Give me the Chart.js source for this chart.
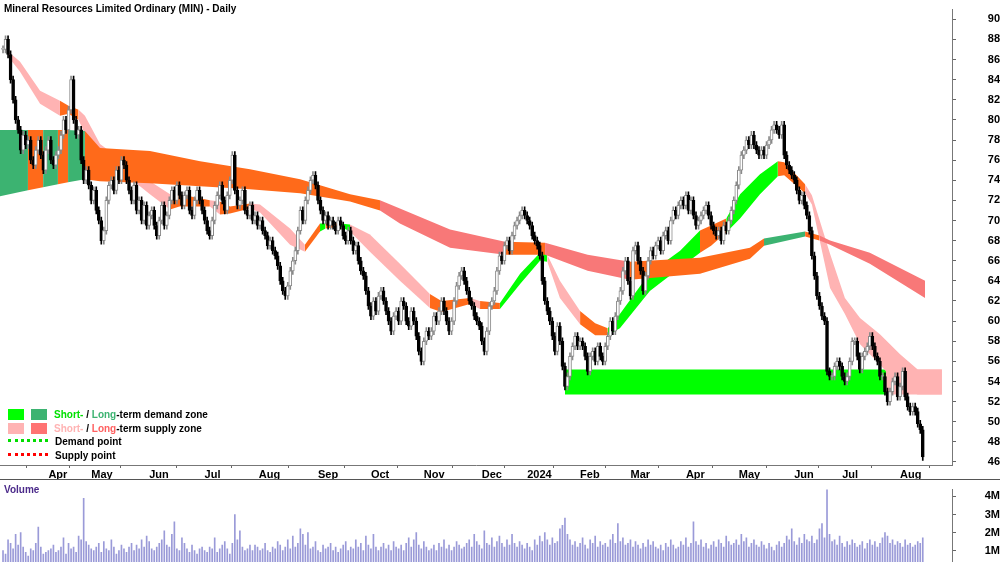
<!DOCTYPE html>
<html>
<head>
<meta charset="utf-8">
<script src="https://cdn.jsdelivr.net/npm/chart.js@4"></script>
<style>
  body { margin: 0; background: #fff; font-family: "Liberation Sans", Arial, sans-serif; }
  #wrap { position: relative; width: 1000px; height: 562px; overflow: hidden; }
  #main { position: absolute; left: 0; top: 0; width: 1000px; height: 480px; }
  #vol { position: absolute; left: 0; top: 480px; width: 1000px; height: 92px; }
  .title { position: absolute; left: 4px; top: 3px; font-size: 10px; font-weight: bold; }
  .vtitle { position: absolute; left: 4px; top: 484px; font-size: 10px; font-weight: bold; color: #4b2a8a; }
  .sep { position: absolute; left: 0; top: 479px; width: 1000px; height: 1px; background: #555; }
  .legend { position: absolute; left: 8px; top: 408px; font-size: 10px; font-weight: bold; line-height: 13.5px; }
  .legend .sw { display: inline-block; width: 16px; height: 11px; vertical-align: -2px; margin-right: 7px; }
  .legend .dot { display: inline-block; width: 40px; height: 0; border-top: 3px dotted; vertical-align: 3px; margin-right: 7px; }
</style>
</head>
<body>
<div id="wrap">
  <div id="main"><canvas id="mainChart"></canvas></div>
  <div id="vol"><canvas id="volChart"></canvas></div>
  <div class="title">Mineral Resources Limited Ordinary (MIN) - Daily</div>
  <div class="sep"></div>
  <div class="vtitle">Volume</div>
  <div class="legend">
    <div><span class="sw" style="background:#00ff00"></span><span class="sw" style="background:#3cb371"></span><span style="color:#00e000">Short-</span> / <span style="color:#3cb371">Long</span>-term demand zone</div>
    <div><span class="sw" style="background:#ffb3b3"></span><span class="sw" style="background:#ff7373"></span><span style="color:#ffb3b3">Short-</span> / <span style="color:#ff6060">Long</span>-term supply zone</div>
    <div><span class="dot" style="border-color:#00dd00"></span>Demand point</div>
    <div><span class="dot" style="border-color:#ff0000"></span>Supply point</div>
  </div>
</div>
<script>
// daily closes, one per trading day (index 0 = early Mar 2023)
const closes = [
  87, 88, 86.5, 84, 82, 80, 79, 77, 78.5, 77.5,
  78, 76, 75.5, 77, 78, 76.5, 75, 77, 78, 76,
  75.5, 76.5, 77, 78.5, 80, 79, 81, 84, 80, 78.5,
  79, 76, 74, 75, 73.5, 72, 73, 71, 70, 68,
  69, 72, 73.5, 74, 73, 75, 74, 76, 75.5, 74,
  73, 72, 73.5, 71, 72, 70, 71.5, 69.5, 70.5, 71,
  69.5, 68.5, 70, 71.5, 69.5, 70.5, 72, 73, 72, 73.5,
  72.5, 71.5, 72.5, 73, 71, 70.5, 72, 73, 72, 71,
  70, 69, 68.5, 70, 71.5, 72.5, 73.5, 72, 71, 72.5,
  74, 76.5, 73, 71.5, 72, 73, 71, 70.5, 71.5, 70,
  70.5, 69.5, 70, 69, 68.5, 67.5, 68, 67, 66.5, 65.5,
  64, 63, 62.5, 63.5, 65, 66, 67, 69, 71, 70,
  72, 73, 74, 74.5, 73.5, 72, 71, 70, 70.5, 69.5,
  70, 69.5, 69, 70, 69.5, 68.5, 68, 69, 68, 67,
  67.5, 66, 65, 64.5, 63, 61.5, 60.5, 62, 61, 62.5,
  63, 62, 61, 60, 59, 60.5, 61, 60, 62, 61.5,
  60, 59.5, 61, 60, 58.5, 57, 56, 58, 59, 58.5,
  59, 60.5, 60, 61, 62, 61, 60, 59, 60, 62,
  63.5, 64.5, 65, 64, 63, 62, 61.5, 60.5, 60, 59.5,
  58, 57, 59, 61.5, 62, 63, 65, 66.5, 66, 67.5,
  68, 67, 68.5, 69.5, 70, 70.5, 71, 70.5, 70, 69.5,
  68.5, 68, 67.5, 66.5, 64, 62, 61, 60, 58.5, 57,
  59.5, 58, 55.5, 53.5, 54.5, 56.5, 57.5, 58.5, 57.5, 58,
  57.5, 56.5, 55, 56.5, 57, 56, 57.5, 56.5, 56, 57.5,
  58.5, 60, 59, 60.5, 62, 63, 65, 66, 64, 62.5,
  67, 67.5, 66, 65, 63, 64.5, 66, 67, 66.5, 67.5,
  68, 67, 68.5, 69, 68, 70, 71, 70.5, 71.5, 72,
  71.5, 72.5, 71, 72, 70.5, 69.5, 70, 70.5, 71, 71.5,
  70.5, 69.5, 69, 68.5, 69, 68, 69.5, 69, 70, 71,
  72, 73.5, 75, 76.5, 77, 78, 77.5, 78.5, 77.5, 77,
  76.5, 77, 76.5, 77.5, 78, 79, 79.5, 79, 78.5, 79.5,
  76.5, 75.5, 75, 74.5, 74, 73, 72, 72.5, 71.5, 70.5,
  69, 66.5, 64.5, 62.5, 61.5, 60.5, 60, 55, 54.5, 54.5,
  55.5, 56, 55.5, 54.5, 54, 54.5, 56, 58, 58, 56.5,
  55.2, 56.5, 57, 57.5, 58.5, 57.5, 56.5, 56, 54.5, 54.5,
  53, 52, 53, 54, 54.5, 52.5, 53.5, 55, 52.5, 51.5,
  51, 51.5, 51, 49.8, 49.2, 46.5
];

// daily volume, millions
const volumes = [
  1.0,0.8,1.6,1.4,1.1,1.9,1.3,2.0,1.2,0.9, 0.7,1.1,1.0,1.4,2.3,1.2,0.8,0.9,1.0,1.1,
  1.3,0.9,1.0,1.2,1.7,0.8,1.4,1.1,1.2,0.9, 1.8,1.6,3.9,1.5,1.3,1.1,1.0,1.2,1.4,0.9,
  1.5,1.1,1.0,1.6,1.2,0.8,1.0,1.3,1.1,0.9, 1.2,1.4,1.0,1.3,1.1,1.6,1.2,1.8,1.5,1.1,
  1.0,1.2,1.4,1.6,2.1,1.3,1.2,1.9,2.6,1.1, 1.0,1.7,1.4,1.1,0.9,1.3,1.0,0.8,1.1,1.2,
  1.0,0.9,1.2,1.1,1.7,0.9,1.1,1.3,1.5,1.1, 0.8,1.4,3.0,1.6,2.1,1.2,1.0,1.1,1.3,1.0,
  1.3,1.2,1.0,1.1,1.4,1.0,0.9,1.2,1.1,1.5, 1.3,1.0,1.2,1.6,1.1,1.8,1.2,1.4,2.2,1.9,
  1.3,2.0,1.1,1.2,1.5,1.0,0.9,1.3,1.1,1.2, 1.4,1.0,1.2,0.9,1.1,1.3,1.5,1.0,1.2,1.1,
  1.6,1.2,1.4,1.0,1.8,1.3,1.1,1.9,1.2,1.0, 1.2,1.4,1.1,1.3,1.0,1.5,1.2,1.1,1.3,1.0,
  1.4,1.7,1.2,1.6,2.0,1.3,1.1,1.5,1.2,1.0, 1.1,1.3,1.0,1.4,1.2,1.6,1.1,1.3,1.0,1.2,
  1.5,1.3,1.1,1.2,1.4,1.6,1.2,1.9,1.5,1.3, 1.1,2.1,1.4,1.3,1.7,1.2,1.5,1.8,1.4,1.2,
  1.6,1.3,1.9,1.4,1.2,1.5,1.3,1.1,1.4,1.2, 1.0,1.6,1.3,1.8,1.5,2.0,1.6,1.3,1.7,1.4,
  1.5,2.2,2.4,2.8,1.9,1.6,1.3,1.5,1.2,1.4, 1.7,1.3,1.1,1.6,1.4,1.8,1.2,1.5,1.3,1.4,
  1.2,1.6,1.9,1.4,2.5,1.5,1.7,1.3,1.4,1.6, 1.2,1.5,1.3,1.1,1.4,1.2,1.6,1.3,1.5,1.2,
  1.1,1.3,1.0,1.4,1.2,1.6,1.3,1.1,1.2,1.5, 1.3,1.7,1.2,1.4,2.6,1.5,1.3,1.6,1.2,1.4,
  1.1,1.3,1.5,1.2,1.6,1.4,1.2,1.8,1.5,1.3, 1.4,1.6,1.3,1.9,1.5,1.7,1.2,1.4,1.6,1.3,
  1.2,1.5,1.3,1.1,1.4,1.2,1.0,1.3,1.5,1.2, 1.4,1.8,1.6,2.2,1.5,1.3,1.7,1.4,1.9,1.6,
  1.5,1.8,1.4,1.6,2.2,2.5,1.7,4.5,1.9,1.5, 1.6,1.3,1.8,1.4,1.2,1.5,1.3,1.6,1.4,1.2,
  1.3,1.5,1.1,1.4,1.6,1.3,1.5,1.2,1.4,1.7, 2.0,1.8,1.4,1.6,1.3,1.5,1.4,1.2,1.6,1.3,
  1.4,1.2,1.3,1.5,1.4,1.7
];

// month boundaries (trading day index) and their labels
const monthIdx = [18, 35, 58, 80, 101.5, 125, 146, 167, 190, 208, 229, 249, 271, 292, 314, 333, 356];
const monthLabels = ['Apr','May','Jun','Jul','Aug','Sep','Oct','Nov','Dec','2024','Feb','Mar','Apr','May','Jun','Jul','Aug'];
const priceTicks = [46,48,50,52,54,56,58,60,62,64,66,68,70,72,74,76,78,80,82,84,86,88,90];
const volTicks = [1, 2, 3, 4];

// long-term band: [day, upper, lower, zone type of the following stretch]
const longBand = [
  [-1.2, 79, 72.4, 'LD'], [9.9, 79, 73.0, 'OR'], [15.9, 79, 73.3, 'LD'], [21.8, 79, 73.6, 'OR'],
  [25.8, 79, 73.8, 'LD'], [32.5, 78.9, 74.1, 'OR'], [38.5, 77.2, 73.9, 'OR'], [58.3, 76.9, 73.7, 'OR'],
  [78.2, 75.9, 73.4, 'OR'], [98, 75.1, 73.1, 'OR'], [117.9, 74.1, 72.7, 'OR'], [137.7, 72.6, 71.9, 'OR'],
  [149.6, 72.0, 71.0, 'LS'], [157.5, 71.2, 69.7, 'LS'], [177.4, 69.1, 67.3, 'LS'], [199.2, 67.9, 66.6, 'OR'],
  [215.1, 67.8, 66.6, 'LS'], [232, 66.6, 65.0, 'LS'], [248.8, 65.9, 64.1, 'OR'], [276.6, 66.3, 64.7, 'OR'],
  [296.4, 67.3, 66.2, 'OR'], [302, 68.2, 67.5, 'LD'], [318.3, 68.9, 68.4, 'OR'], [324, 68.5, 68.0, 'LS'],
  [328.2, 68.0, 67.6, 'LS'], [344, 66.8, 65.7, 'LS'], [365.9, 64.0, 62.3, 'LS']
];

// short-term band
const shortBand = [
  [2, 86.8, 86.3, 'SS'], [6.7, 85.8, 84.8, 'SS'], [14.7, 82.9, 81.6, 'SS'], [22.6, 81.9, 80.4, 'OR'],
  [26, 81.4, 80.6, 'OR'], [30, 81, 80, 'SS'], [32.5, 80.4, 78.6, 'SS'], [38.5, 77.6, 76.2, 'SS'],
  [50.4, 75.4, 74.2, 'SS'], [58.3, 73.9, 72.6, 'SS'], [66.3, 72.6, 71.1, 'OR'], [70, 72.6, 71.4, 'OR'],
  [82.1, 72.0, 71.4, 'SS'], [86.1, 71.9, 70.6, 'OR'], [90.1, 71.4, 70.7, 'OR'], [98, 71.7, 71.2, 'SS'],
  [102, 71.6, 70.8, 'SS'], [113.9, 69.2, 67.6, 'SS'], [119.8, 67.6, 66.9, 'OR'], [125.8, 69.7, 68.9, 'SD'],
  [128, 69.7, 69.2, 'OR'], [133.7, 69.7, 69.4, 'SD'], [137.7, 69.6, 68.9, 'SS'], [145.6, 68.6, 66.9, 'SS'],
  [157.5, 65.7, 64.0, 'SS'], [169.4, 62.7, 61.3, 'OR'], [174, 62.0, 60.9, 'OR'], [185.3, 62.3, 61.7, 'SS'],
  [189.3, 62.0, 61.2, 'OR'], [197.2, 61.8, 61.2, 'SD'], [205.2, 64.7, 63.7, 'SD'], [213.1, 66.8, 66.0, 'SD'],
  [216, 66.6, 65.9, 'SS'], [221, 64.0, 62.3, 'SS'], [229, 61.0, 59.7, 'OR'], [235, 59.8, 58.6, 'OR'],
  [240, 59.3, 58.6, 'SD'], [244.8, 60.7, 59.3, 'SD'], [256.7, 64.8, 63.0, 'SD'], [268.7, 67.0, 65.3, 'SD'],
  [276.6, 69.0, 66.8, 'OR'], [281, 69.5, 67.5, 'OR'], [287, 70.2, 68.8, 'SD'], [292.5, 72.6, 70.2, 'SD'],
  [300.4, 74.6, 72.6, 'SD'], [307.5, 75.9, 74.4, 'OR'], [310, 75.8, 74.5, 'OR'], [318.3, 73.6, 72.7, 'SS'],
  [321, 72.5, 71.6, 'SS'], [328.2, 66.7, 63.3, 'SS'], [334.1, 62.3, 60.7, 'SS'], [340.1, 60.3, 57.7, 'SS'],
  [348, 58.7, 55.7, 'SS'], [356, 56.7, 53.4, 'SS'], [363, 55.2, 52.7, 'SS'], [372.6, 55.2, 52.7, 'SS']
];

// horizontal zones: [from day, to day, top, bottom, type]
const zones = [
  [223, 350.4, 55.2, 52.7, 'SD'],
  [350.4, 372.6, 55.2, 52.7, 'SS']
];

const zoneColors = { SD: '#00ff00', LD: '#3cb371', SS: '#ffb3b3', LS: '#f87878', OR: '#ff6a1a' };
const WICK = 0.35;
const X_MIN = -1.2, X_MAX = 376.6;

const opens = closes.map((c, i) => i === 0 ? c : closes[i - 1]);
const bodies = closes.map((c, i) => ({ x: i, y: [opens[i], c] }));
const wicks = closes.map((c, i) => ({ x: i, y: [Math.min(opens[i], c) - WICK, Math.max(opens[i], c) + WICK] }));
const isUp = i => closes[i] >= opens[i];

function bandSets(band) {
  const types = band.map(p => p[3]);
  const seg = { backgroundColor: c => zoneColors[types[c.p0DataIndex]] };
  return [
    { type: 'line', data: band.map(p => ({ x: p[0], y: p[1] })), fill: '+1', segment: seg,
      borderWidth: 0, borderColor: 'transparent', pointRadius: 0, order: 10 },
    { type: 'line', data: band.map(p => ({ x: p[0], y: p[2] })), fill: false,
      borderWidth: 0, borderColor: 'transparent', pointRadius: 0, order: 10 }
  ];
}

function zoneSets() {
  const out = [];
  zones.forEach(z => {
    out.push({ type: 'line', data: [{ x: z[0], y: z[2] }, { x: z[1], y: z[2] }], fill: '+1',
      backgroundColor: zoneColors[z[4]], borderWidth: 0, borderColor: 'transparent', pointRadius: 0, order: 11 });
    out.push({ type: 'line', data: [{ x: z[0], y: z[3] }, { x: z[1], y: z[3] }], fill: false,
      borderWidth: 0, borderColor: 'transparent', pointRadius: 0, order: 11 });
  });
  return out;
}

const tickFont = { family: '"Liberation Sans", Arial, sans-serif', size: 11, weight: 'bold' };

new Chart(document.getElementById('mainChart'), {
  type: 'bar',
  data: {
    datasets: [
      ...zoneSets(),
      ...bandSets(longBand),
      ...bandSets(shortBand),
      { type: 'bar', data: wicks, grouped: false, barThickness: 1, order: 2,
        backgroundColor: wicks.map((w, i) => isUp(i) ? '#8a8a8a' : '#000') },
      { type: 'bar', data: bodies, grouped: false, barThickness: 3, order: 1, borderSkipped: false,
        minBarLength: 1, borderWidth: 1,
        backgroundColor: bodies.map((b, i) => isUp(i) ? '#ffffff' : '#000'),
        borderColor: bodies.map((b, i) => isUp(i) ? '#8a8a8a' : '#000') }
    ]
  },
  options: {
    responsive: true,
    maintainAspectRatio: false,
    animation: false,
    layout: { padding: 0 },
    plugins: { legend: { display: false }, tooltip: { enabled: false } },
    scales: {
      x: {
        type: 'linear', min: X_MIN, max: X_MAX, offset: false,
        afterBuildTicks: s => { s.ticks = monthIdx.map(v => ({ value: v })); },
        afterFit: s => { s.height = 15; },
        ticks: { callback: v => monthLabels[monthIdx.indexOf(v)], align: 'start', font: tickFont,
          color: '#000', padding: 0, maxRotation: 0, autoSkip: false },
        grid: { drawOnChartArea: false, tickLength: 3, color: '#666' },
        border: { color: '#777' }
      },
      y: {
        position: 'right', min: 45.7, max: 90.96,
        afterBuildTicks: s => { s.ticks = priceTicks.map(v => ({ value: v })); },
        afterFit: s => { s.width = 48; },
        ticks: { font: tickFont, color: '#000', padding: 3, crossAlign: 'far' },
        grid: { drawOnChartArea: false, tickLength: 4, color: '#666' },
        border: { color: '#777' }
      }
    }
  }
});

new Chart(document.getElementById('volChart'), {
  type: 'bar',
  data: {
    datasets: [{ data: volumes.map((v, i) => ({ x: i, y: v })), backgroundColor: '#9a9ad8',
      barThickness: 1, grouped: false }]
  },
  options: {
    responsive: true,
    maintainAspectRatio: false,
    animation: false,
    layout: { padding: 0 },
    plugins: { legend: { display: false }, tooltip: { enabled: false } },
    scales: {
      x: { type: 'linear', min: X_MIN, max: X_MAX, offset: false, display: false },
      y: {
        position: 'right', min: 0.345, max: 4.38,
        afterBuildTicks: s => { s.ticks = volTicks.map(v => ({ value: v })); },
        afterFit: s => { s.width = 48; },
        ticks: { font: tickFont, color: '#000', padding: 3, crossAlign: 'far', callback: v => v + 'M' },
        grid: { drawOnChartArea: false, tickLength: 4, color: '#666' },
        border: { color: '#777' }
      }
    }
  }
});
</script>
</body>
</html>
